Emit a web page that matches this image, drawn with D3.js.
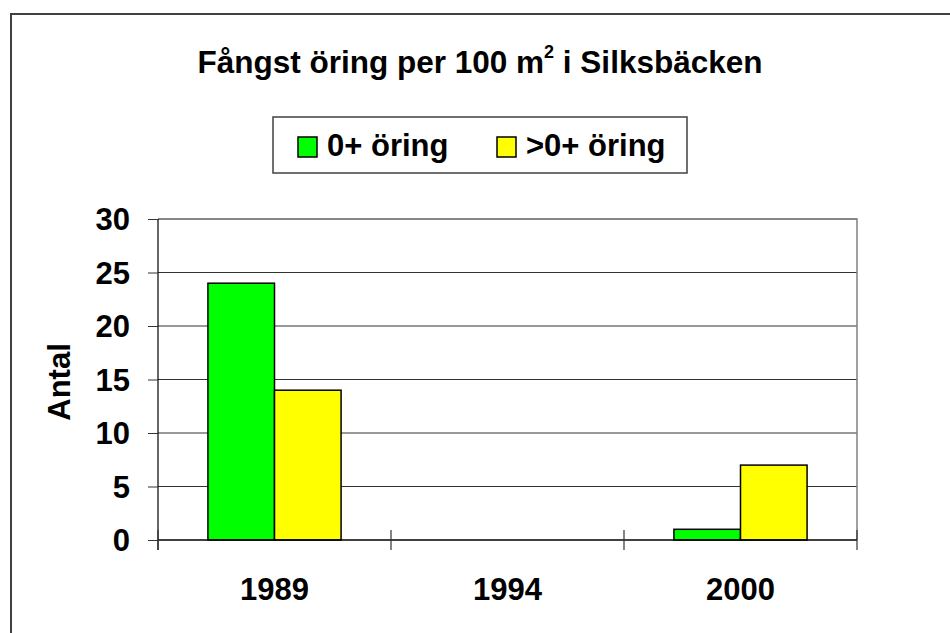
<!DOCTYPE html>
<html><head><meta charset="utf-8">
<script src="https://cdn.jsdelivr.net/npm/d3@7"></script>
<style>
html,body{margin:0;padding:0;background:#fff;}
svg{display:block;font-family:"Liberation Sans",Arial,sans-serif;font-weight:bold;}
</style></head>
<body>
<script>
const categories = ["1989", "1994", "2000"];
const seriesNames = ["0+ öring", ">0+ öring"];
const seriesColors = ["#00ff00", "#ffff00"];
const values0 = [24, null, 1];
const values1 = [14, null, 7];
const yTicks = [0, 5, 10, 15, 20, 25, 30];
const titleMain = "Fångst öring per 100 m";
const titleSup = "2";
const titleEnd = " i Silksbäcken";
const yLabel = "Antal";

const W = 950, H = 633;
const FS = 31;
const svg = d3.select("body").append("svg").attr("width", W).attr("height", H);

// outer border
svg.append("rect").attr("x", 11).attr("y", 14).attr("width", 1000).attr("height", 700)
  .attr("fill", "none").attr("stroke", "#404040").attr("stroke-width", 2);

const plot = {l: 158, r: 857, t: 219, b: 540};
const x = d3.scaleBand().domain(categories).range([plot.l, plot.r]).padding(0);
const y = d3.scaleLinear().domain([0, 30]).range([plot.b, plot.t]);
const groupW = x.bandwidth() / 1.75;
const xs = d3.scaleBand().domain([0, 1]).range([-groupW / 2, groupW / 2]).padding(0);

// gridlines
svg.append("g").selectAll("line").data(yTicks.filter(d => d > 0)).join("line")
  .attr("x1", plot.l).attr("x2", plot.r)
  .attr("y1", d => y(d)).attr("y2", d => y(d))
  .attr("stroke", "#333").attr("stroke-width", 1);
// plot border top & right (gray)
svg.append("path").attr("d", `M${plot.l},${plot.t}H${plot.r}V${plot.b}`)
  .attr("fill", "none").attr("stroke", "#808080").attr("stroke-width", 1.5);

// bars
const series = [values0, values1];
const barData = [];
series.forEach((vals, si) => vals.forEach((v, ci) => {
  if (v != null) barData.push({cat: categories[ci], s: si, v});
}));
svg.append("g").selectAll("rect").data(barData).join("rect")
  .attr("x", d => x(d.cat) + x.bandwidth() / 2 + xs(d.s))
  .attr("y", d => y(d.v))
  .attr("width", xs.bandwidth())
  .attr("height", d => y(0) - y(d.v))
  .attr("fill", d => seriesColors[d.s])
  .attr("stroke", "#000").attr("stroke-width", 1.5);

// y axis
const yAxis = d3.axisLeft(y).tickValues(yTicks).tickSize(10).tickFormat("");
const gy = svg.append("g").attr("transform", `translate(${plot.l},0)`).call(yAxis);
gy.select(".domain").attr("d", `M0,${plot.t}V${plot.b + 10}`).attr("stroke", "#000").attr("stroke-width", 1.2);
gy.selectAll(".tick line").attr("stroke", "#333");
svg.append("g").selectAll("text").data(yTicks).join("text")
  .attr("x", 130).attr("y", d => y(d) + 11)
  .attr("text-anchor", "end").attr("font-size", FS).text(d => d);

// x axis baseline & ticks
svg.append("line").attr("x1", plot.l).attr("x2", plot.r).attr("y1", plot.b).attr("y2", plot.b)
  .attr("stroke", "#000").attr("stroke-width", 1.5);
const tickXs = categories.map(c => x(c)).concat([plot.r]);
svg.append("g").selectAll("line").data(tickXs).join("line")
  .attr("x1", d => d).attr("x2", d => d).attr("y1", plot.b - 10).attr("y2", plot.b + 10)
  .attr("stroke", "#333").attr("stroke-width", 1.2);
svg.append("g").selectAll("text").data(categories).join("text")
  .attr("x", d => x(d) + x.bandwidth() / 2).attr("y", 600)
  .attr("text-anchor", "middle").attr("font-size", FS).text(d => d);

// y label
svg.append("text").attr("transform", `translate(70,382) rotate(-90)`)
  .attr("text-anchor", "middle").attr("font-size", FS).text(yLabel);

// title
const title = svg.append("text").attr("x", 480).attr("y", 73)
  .attr("text-anchor", "middle").attr("font-size", 31.5);
title.append("tspan").text(titleMain);
title.append("tspan").attr("font-size", 18).attr("dy", -15).text(titleSup);
title.append("tspan").attr("dy", 15).text(titleEnd);

// legend
svg.append("rect").attr("x", 273).attr("y", 117).attr("width", 414).attr("height", 56)
  .attr("fill", "#fff").attr("stroke", "#404040").attr("stroke-width", 1.5);
const legX = [298, 497];
seriesNames.forEach((n, i) => {
  svg.append("rect").attr("x", legX[i]).attr("y", 137).attr("width", 19).attr("height", 20)
    .attr("fill", seriesColors[i]).attr("stroke", "#000").attr("stroke-width", 1.5);
  svg.append("text").attr("x", legX[i] + 29).attr("y", 156)
    .attr("font-size", FS).text(n);
});
</script>
</body></html>
